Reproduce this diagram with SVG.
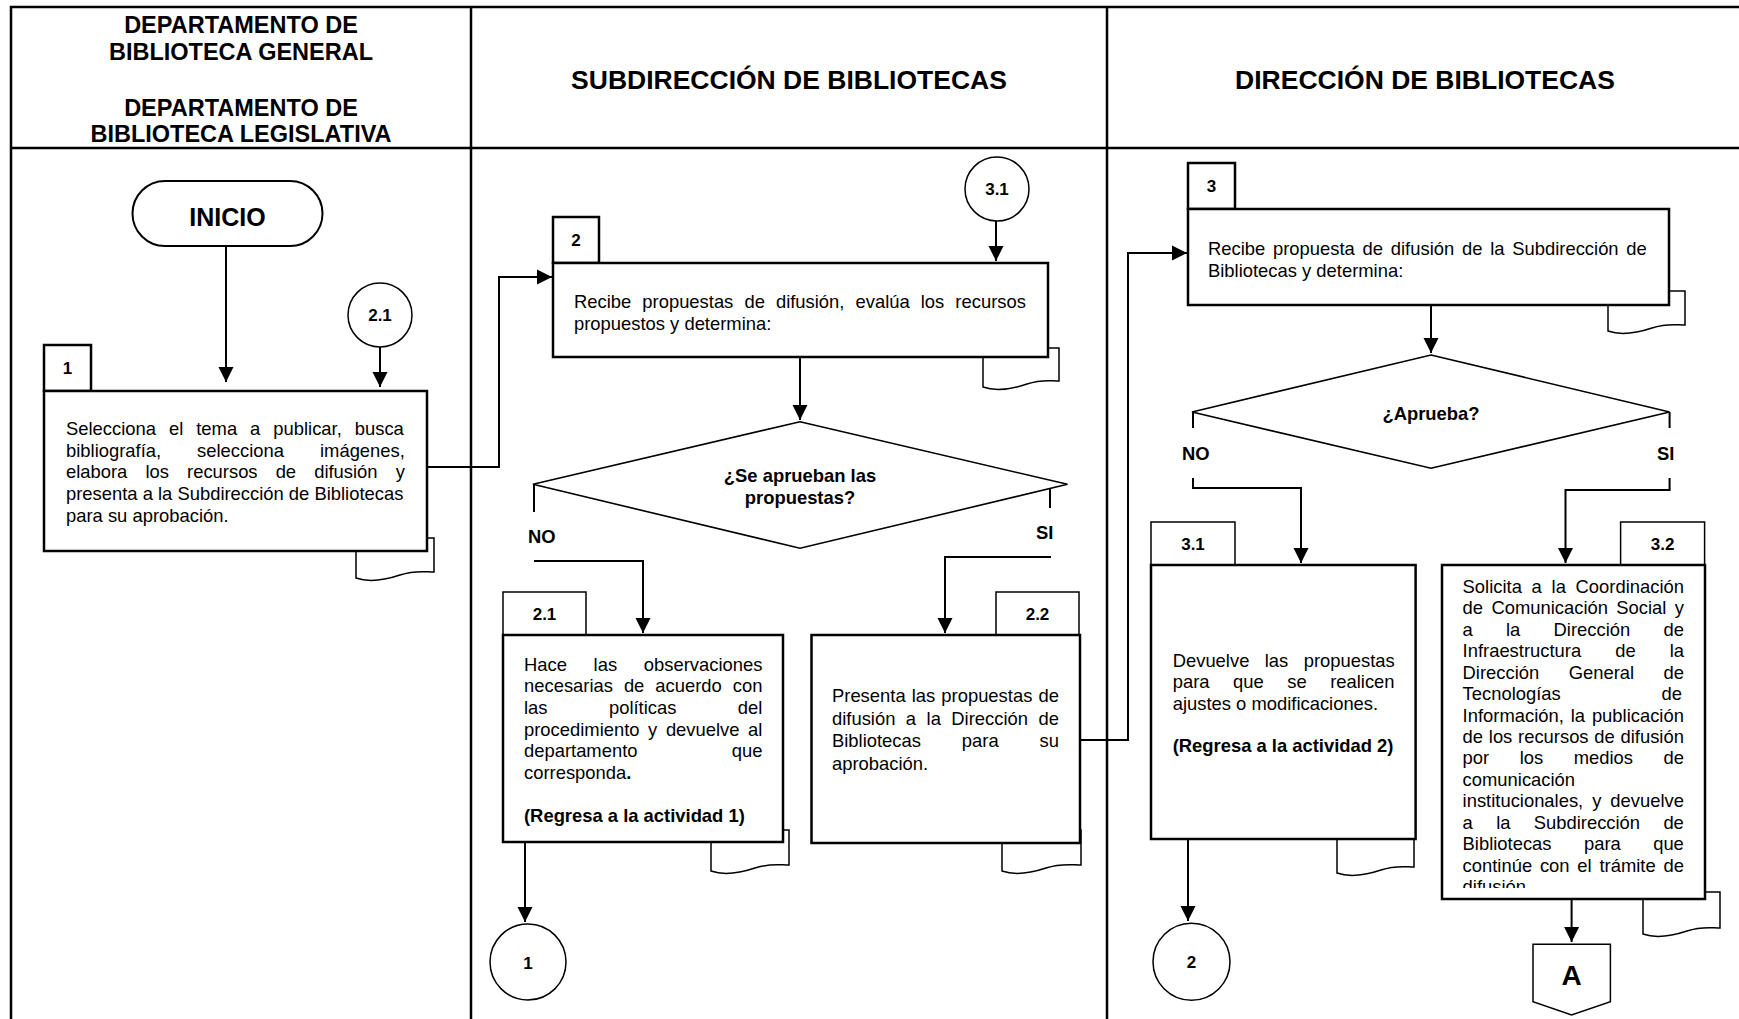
<svg xmlns="http://www.w3.org/2000/svg" width="1739" height="1019" viewBox="0 0 1739 1019">
<style>
text{font-family:"Liberation Sans",Arial,Helvetica,sans-serif;font-size:18.4px;fill:#000}
.b{font-weight:bold}
.c{text-anchor:middle}
.h1{font-size:23.5px;font-weight:bold;text-anchor:middle}
.h2{font-size:26.5px;font-weight:bold;text-anchor:middle}
.frame{fill:none;stroke:#000;stroke-width:2.5}
.box{fill:#fff;stroke:#000;stroke-width:2.5}
.nb{fill:#fff;stroke:#000;stroke-width:1.5}
.tab{fill:#fff;stroke:#000;stroke-width:1.5}
.dia{fill:#fff;stroke:#000;stroke-width:1.6}
.ln{fill:none;stroke:#000;stroke-width:2}
.ar{fill:none;stroke:#000;stroke-width:2;marker-end:url(#ah)}
.cir{fill:#fff;stroke:#000;stroke-width:1.5}
</style>
<defs>
<marker id="ah" markerUnits="userSpaceOnUse" markerWidth="16" markerHeight="16" refX="15" refY="8" orient="auto" viewBox="0 0 16 16"><path d="M0,0.5 L15,8 L0,15.5 Z" fill="#000"/></marker>
<clipPath id="clip32"><rect x="1444" y="567" width="259" height="321"/></clipPath>
</defs>
<rect width="1739" height="1019" fill="#fff"/>

<g id="frame">
<path class="frame" d="M11,1019 V7 H1739 M11,148 H1739 M471,7 V1019 M1107,7 V1019"/>
<text class="h1" x="241" y="33">DEPARTAMENTO DE</text>
<text class="h1" x="241" y="60">BIBLIOTECA GENERAL</text>
<text class="h1" x="241" y="116">DEPARTAMENTO DE</text>
<text class="h1" x="241" y="142">BIBLIOTECA LEGISLATIVA</text>
<text class="h2" x="789" y="89">SUBDIRECCIÓN DE BIBLIOTECAS</text>
<text class="h2" x="1425" y="89">DIRECCIÓN DE BIBLIOTECAS</text>
</g>

<g id="connectors">
<path class="ar" d="M226,246 V382"/>
<path class="ar" d="M380,347 V387"/>
<path class="ar" d="M427,467 H499 V277 H552"/>
<path class="ar" d="M996,221 V261"/>
<path class="ar" d="M800,357 V420"/>
<path class="ln" d="M534,485 V512 M1050,488.5 V508"/>
<path class="ar" d="M534,561 H643 V633"/>
<path class="ar" d="M1051,557 H945 V633"/>
<path class="ar" d="M525,842 V922"/>
<path class="ar" d="M1080,740 H1128 V253 H1187"/>
<path class="ar" d="M1431,305 V353"/>
<path class="ln" d="M1193,412 V428 M1669.6,412 V428"/>
<path class="ar" d="M1193,478 V488 H1301 V563"/>
<path class="ar" d="M1669.6,478 V490 H1565.5 V563"/>
<path class="ar" d="M1188,839 V921"/>
<path class="ar" d="M1571.6,899 V942"/>
</g>

<g id="inicio">
<rect x="132.5" y="181" width="190" height="65" rx="32.5" class="box" style="stroke-width:2"/>
<text class="b c" x="227.5" y="226" style="font-size:25px">INICIO</text>
</g>

<g id="c21a">
<circle cx="380" cy="315" r="32" class="cir"/>
<text class="b c" x="380" y="321" style="font-size:17px">2.1</text>
</g>

<g id="act1">
<path class="tab" d="M356,538 V578 C370,583 385,580 400,575 S425,572 434,572 V538 Z"/>
<rect x="44" y="345" width="47" height="46" class="box"/>
<text class="b c" x="67.5" y="374" style="font-size:17px">1</text>
<rect x="44" y="391" width="383" height="160" class="box"/>
<text x="66" y="435" style="word-spacing:7.86px">Selecciona el tema a publicar, busca</text>
<text x="66" y="456.7" style="word-spacing:30.9px">bibliografía, selecciona imágenes,</text>
<text x="66" y="478.3" style="word-spacing:12.98px">elabora los recursos de difusión y</text>
<text x="66" y="500">presenta a la Subdirección de Bibliotecas</text>
<text x="66" y="521.7">para su aprobación.</text>
</g>

<g id="c31a">
<circle cx="997" cy="189" r="32" class="cir"/>
<text class="b c" x="997" y="195" style="font-size:17px">3.1</text>
</g>

<g id="act2">
<path class="tab" d="M983,348 V387 C997,392 1012,389 1027,384 S1050,381 1059,381 V348 Z"/>
<rect x="553" y="217" width="46" height="46" class="box"/>
<text class="b c" x="576" y="246" style="font-size:17px">2</text>
<rect x="553" y="263" width="495" height="94" class="box"/>
<text x="574" y="308" style="word-spacing:5.97px">Recibe propuestas de difusión, evalúa los recursos</text>
<text x="574" y="330">propuestos y determina:</text>
</g>

<g id="dec2">
<polygon class="dia" points="800,421.7 1067.5,484.3 800,548.3 533,484.3"/>
<text class="b c" x="800" y="482">¿Se aprueban las</text>
<text class="b c" x="800" y="504">propuestas?</text>
<text class="b" x="528" y="543">NO</text>
<text class="b" x="1036" y="539">SI</text>
</g>

<g id="act21">
<path class="tab" d="M711,830 V871 C725,876 740,873 755,868 S780,865 789,865 V830 Z"/>
<rect x="503" y="592" width="83" height="43" class="nb"/>
<text class="b c" x="544.5" y="620" style="font-size:17px">2.1</text>
<rect x="503" y="635" width="280" height="207" class="box"/>
<text x="524" y="670.7" style="word-spacing:21.58px">Hace las observaciones</text>
<text x="524" y="692.3" style="word-spacing:5.85px">necesarias de acuerdo con</text>
<text x="524" y="714" style="word-spacing:56.34px">las políticas del</text>
<text x="524" y="735.7" style="word-spacing:3.48px">procedimiento y devuelve al</text>
<text x="524" y="757.3" style="word-spacing:89.2px">departamento que</text>
<text x="524" y="779">corresponda<tspan class="b">.</tspan></text>
<text class="b" x="524" y="821.7">(Regresa a la actividad 1)</text>
</g>

<g id="c1">
<circle cx="528" cy="962" r="38" class="cir"/>
<text class="b c" x="528" y="969" style="font-size:17px">1</text>
</g>

<g id="act22">
<path class="tab" d="M1002,830 V871 C1016,876 1031,873 1046,868 S1072,865 1081,865 V830 Z"/>
<rect x="996" y="592" width="83" height="43" class="nb"/>
<text class="b c" x="1037.5" y="620" style="font-size:17px">2.2</text>
<rect x="811.5" y="635" width="268.5" height="208" class="box"/>
<text x="832" y="702" style="word-spacing:1px">Presenta las propuestas de</text>
<text x="832" y="724.5" style="word-spacing:5.36px">difusión a la Dirección de</text>
<text x="832" y="747" style="word-spacing:35.8px">Bibliotecas para su</text>
<text x="832" y="769.5">aprobación.</text>
</g>

<g id="act3">
<path class="tab" d="M1608,291 V331 C1622,336 1637,333 1652,328 S1676,325 1685,325 V291 Z"/>
<rect x="1188" y="163" width="47" height="46" class="box"/>
<text class="b c" x="1211.5" y="192" style="font-size:17px">3</text>
<rect x="1188" y="209" width="481" height="96" class="box"/>
<text x="1208" y="255" style="word-spacing:2.66px">Recibe propuesta de difusión de la Subdirección de</text>
<text x="1208" y="276.5">Bibliotecas y determina:</text>
</g>

<g id="dec3">
<polygon class="dia" points="1431,355 1669.6,412 1431,468.3 1192,412"/>
<text class="b c" x="1431" y="420">¿Aprueba?</text>
<text class="b" x="1182" y="460">NO</text>
<text class="b" x="1657" y="460">SI</text>
</g>

<g id="act31">
<path class="tab" d="M1337,836 V873 C1351,878 1366,875 1381,870 S1405,867 1414,867 V836 Z"/>
<rect x="1151" y="522" width="84" height="43" class="nb"/>
<text class="b c" x="1193" y="550" style="font-size:17px">3.1</text>
<rect x="1151" y="565" width="264.6" height="274" class="box"/>
<text x="1172.7" y="666.7" style="word-spacing:10.3px">Devuelve las propuestas</text>
<text x="1172.7" y="688" style="word-spacing:18.4px">para que se realicen</text>
<text x="1172.7" y="709.5">ajustes o modificaciones.</text>
<text class="b" x="1172.7" y="752">(Regresa a la actividad 2)</text>
</g>

<g id="c2">
<circle cx="1191.5" cy="961.7" r="38.5" class="cir"/>
<text class="b c" x="1191.5" y="968" style="font-size:17px">2</text>
</g>

<g id="act32">
<path class="tab" d="M1643,892 V934 C1657,939 1672,936 1687,931 S1711,928 1720,928 V892 Z"/>
<rect x="1620.6" y="522" width="84" height="43" class="nb"/>
<text class="b c" x="1662.6" y="550" style="font-size:17px">3.2</text>
<rect x="1442" y="565" width="263" height="334" class="box"/>
<g clip-path="url(#clip32)">
<text x="1462.6" y="593" style="word-spacing:4.61px">Solicita a la Coordinación</text>
<text x="1462.6" y="614.4" style="word-spacing:3.25px">de Comunicación Social y</text>
<text x="1462.6" y="635.9" style="word-spacing:28.1px">a la Dirección de</text>
<text x="1462.6" y="657.3" style="word-spacing:28.9px">Infraestructura de la</text>
<text x="1462.6" y="678.7" style="word-spacing:24.3px">Dirección General de</text>
<text x="1462.6" y="700.2" style="word-spacing:95.6px">Tecnologías de</text>
<text x="1462.6" y="721.6" style="word-spacing:1.78px">Información, la publicación</text>
<text x="1462.6" y="743" style="word-spacing:0.63px">de los recursos de difusión</text>
<text x="1462.6" y="764.4" style="word-spacing:25.4px">por los medios de</text>
<text x="1462.6" y="785.9">comunicación</text>
<text x="1462.6" y="807.3" style="word-spacing:3.83px">institucionales, y devuelve</text>
<text x="1462.6" y="828.7" style="word-spacing:18.2px">a la Subdirección de</text>
<text x="1462.6" y="850.2" style="word-spacing:27.3px">Bibliotecas para que</text>
<text x="1462.6" y="871.6" style="word-spacing:2.68px">continúe con el trámite de</text>
<text x="1462.6" y="893">difusión</text>
</g>
</g>

<g id="offpageA">
<polygon class="cir" points="1533,944.3 1610.4,944.3 1610.4,1001.7 1571.6,1015 1533,1001.7"/>
<text class="b c" x="1571.6" y="985" style="font-size:28px">A</text>
</g>
</svg>
